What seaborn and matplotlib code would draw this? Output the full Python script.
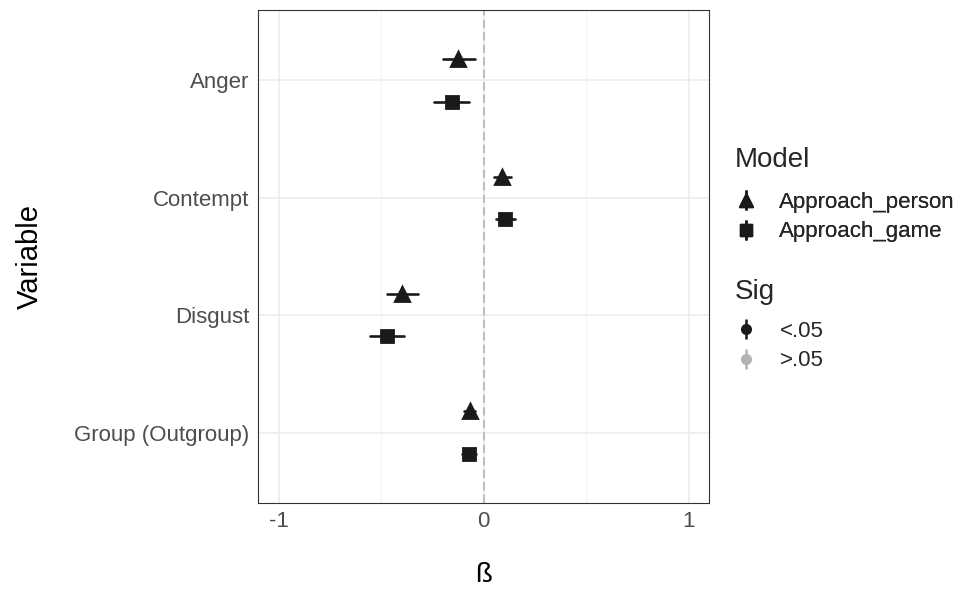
import numpy as np
import pandas as pd
import matplotlib
matplotlib.use("Agg")
import matplotlib.pyplot as plt
from matplotlib.lines import Line2D
from matplotlib.legend_handler import HandlerTuple
import seaborn as sns

# coefficient estimates and 95% CIs
variables = ["Anger", "Contempt", "Disgust", "Group (Outgroup)"]
models = ["Approach_person", "Approach_game"]

beta_person = [-0.124, 0.091, -0.398, -0.068]
lo_person = [-0.198, 0.050, -0.472, -0.095]
hi_person = [-0.042, 0.136, -0.321, -0.042]

beta_game = [-0.156, 0.104, -0.471, -0.073]
lo_game = [-0.241, 0.060, -0.553, -0.105]
hi_game = [-0.071, 0.152, -0.386, -0.035]

sig_levels = ["<.05", ">.05"]

# long table: lo / est / hi per row so median = estimate and 100% interval = CI
rows = []
for m, est, lo, hi in [(models[0], beta_person, lo_person, hi_person),
                       (models[1], beta_game, lo_game, hi_game)]:
    for v, e, l, h in zip(variables, est, lo, hi):
        for val in (l, e, h):
            rows.append({"Variable": v, "Model": m, "beta": val})
df = pd.DataFrame(rows)

sns.set_style("white")
plt.rcParams["font.family"] = ["Liberation Sans", "DejaVu Sans"]

fig = plt.figure(figsize=(9.63, 5.9), dpi=100)
ax = fig.add_axes([258 / 963, 1 - 503 / 590, (709 - 258) / 963, (503 - 10) / 590])

ink = "#1a1a1a"
sns.pointplot(data=df, x="beta", y="Variable", hue="Model",
              order=variables, hue_order=models,
              estimator="median", errorbar=("pi", 100),
              dodge=0.36, markers=["^", "s"], linestyles="none",
              palette=[ink, ink], err_kws={"linewidth": 1.9},
              legend=False, ax=ax)

for ln in ax.lines:
    mk = ln.get_marker()
    if mk == "^":
        ln.set_markersize(10.5)
    elif mk == "s":
        ln.set_markersize(8.5)

ax.axvline(0, color="#BEBEBE", lw=1.5, ls=(0, (4, 2)), zorder=1)

ax.set_xlim(-1.1, 1.1)
ax.set_ylim(3.6, -0.6)
ax.set_xticks([-1, 0, 1])
ax.set_xticklabels(["-1", "0", "1"])
ax.set_xticks([-0.5, 0.5], minor=True)
ax.grid(which="major", color="#EBEBEB", lw=1.1)
ax.grid(which="minor", axis="x", color="#F2F2F2", lw=0.6)
ax.set_axisbelow(True)

for s in ax.spines.values():
    s.set_visible(True)
    s.set_color("#333333")
    s.set_linewidth(0.8)

ax.tick_params(which="major", length=3, color="#333333", width=0.8,
               labelsize=16, labelcolor="#4D4D4D", pad=3)
ax.tick_params(which="minor", length=0)

ax.set_xlabel("ß", fontsize=20, labelpad=21, color="black")
ax.set_ylabel("Variable", fontsize=21, labelpad=22, color="black")

# legends: point with vertical error line as key
def key(marker, color, size):
    bar = Line2D([], [], marker="|", markersize=15, mew=1.8, color=color, ls="none")
    pt = Line2D([], [], marker=marker, markersize=size, color=color, ls="none")
    return (bar, pt)

model_handles = [key("^", ink, 9.5), key("s", ink, 8)]
sig_handles = [key("o", ink, 7), key("o", "#B3B3B3", 7)]

common = dict(loc="upper left", frameon=False,
              fontsize=16, handlelength=1.0,
              handletextpad=1.0, borderpad=0, borderaxespad=0,
              labelspacing=0.38,
              handler_map={tuple: HandlerTuple(ndivide=1, pad=0)})

fig.text(735 / 963, 1 - 160 / 590, "Model", fontsize=20, va="center", ha="left")
leg1 = fig.legend(model_handles, models,
                  bbox_to_anchor=(735 / 963, 1 - 192 / 590), **common)
fig.add_artist(leg1)
fig.text(735 / 963, 1 - 292 / 590, "Sig", fontsize=20, va="center", ha="left")
leg2 = fig.legend(sig_handles, sig_levels,
                  bbox_to_anchor=(735 / 963, 1 - 321 / 590), **common)

fig.savefig("out.png", dpi=100)
